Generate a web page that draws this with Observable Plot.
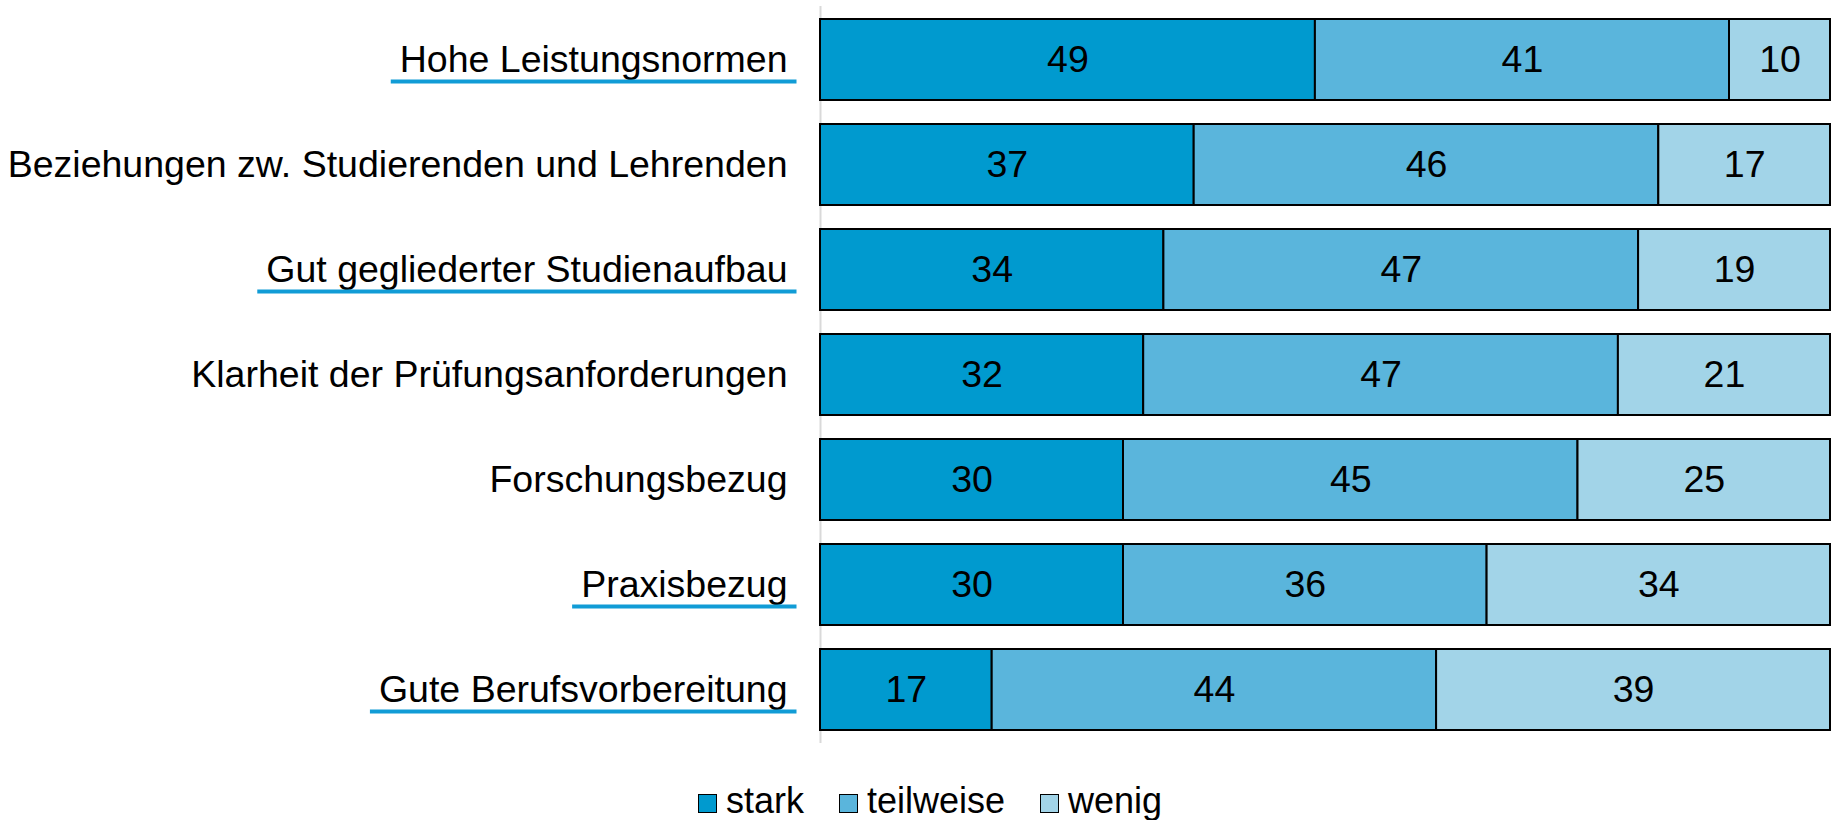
<!DOCTYPE html>
<html><head><meta charset="utf-8">
<script src="https://cdn.jsdelivr.net/npm/d3@7"></script>
<script src="https://cdn.jsdelivr.net/npm/@observablehq/plot@0.6"></script>
<style>
body{margin:0;background:#fff;font-family:"Liberation Sans",Arial,sans-serif;}
#chart svg{display:block;}
#legend{position:absolute;left:698px;top:781px;font-size:36px;line-height:40px;color:#000;white-space:nowrap;}
#legend .item{margin-right:35px;}
#legend .sw{display:inline-block;width:17px;height:17px;border:1.5px solid #000;margin-right:9px;vertical-align:baseline;}
</style></head><body><div id="chart"></div><div id="legend"></div>
<script>
const categories = [
  "Hohe Leistungsnormen",
  "Beziehungen zw. Studierenden und Lehrenden",
  "Gut gegliederter Studienaufbau",
  "Klarheit der Prüfungsanforderungen",
  "Forschungsbezug",
  "Praxisbezug",
  "Gute Berufsvorbereitung"
];
const stark     = [49, 37, 34, 32, 30, 30, 17];
const teilweise = [41, 46, 47, 47, 45, 36, 44];
const wenig     = [10, 17, 19, 21, 25, 34, 39];
const seriesNames = ["stark", "teilweise", "wenig"];
const underlined = ["Hohe Leistungsnormen", "Gut gegliederter Studienaufbau", "Praxisbezug", "Gute Berufsvorbereitung"];

const colors = ["#009ACF", "#5AB5DC", "#A2D4E8"];
const underlineColor = "#119CD6";
const font = '"Liberation Sans", Arial, sans-serif';

const seriesValues = [stark, teilweise, wenig];
const data = categories.flatMap((c, i) =>
  seriesNames.map((s, j) => ({cat: c, series: s, value: seriesValues[j][i]})));

const plot = Plot.plot({
  width: 1835, height: 750,
  marginLeft: 820, marginRight: 5, marginTop: 6, marginBottom: 7,
  style: {fontFamily: font, fontSize: "37px", color: "#000", background: "#fff"},
  x: {domain: [0, 100], axis: null},
  y: {domain: categories, paddingInner: 0.23, paddingOuter: 0.114, axis: null},
  color: {domain: seriesNames, range: colors},
  marks: [
    Plot.ruleX([0], {stroke: "#d9d9d9", strokeWidth: 2}),
    Plot.barX(data, Plot.stackX({x: "value", y: "cat", fill: "series", z: "series", stroke: "#000", strokeWidth: 2})),
    Plot.text(data, Plot.stackX({x: "value", y: "cat", z: "series", text: d => String(d.value), fill: "#000", fontSize: 37.5})),
    Plot.axisY({tickSize: 0, tickPadding: 33, fontSize: 37.5, fill: "#000", label: null})
  ]
});
document.getElementById("chart").append(plot);

// underline selected category labels
d3.select(plot).selectAll('g[aria-label="y-axis tick label"] text').each(function() {
  const label = this.textContent;
  if (!underlined.includes(label)) return;
  const bb = this.getBBox();
  const r = document.createElementNS("http://www.w3.org/2000/svg", "rect");
  r.setAttribute("x", bb.x - 9);
  r.setAttribute("width", bb.width + 18);
  r.setAttribute("y", bb.y + bb.height - 0.5);
  r.setAttribute("height", 4);
  r.setAttribute("fill", underlineColor);
  const t = this.getAttribute("transform");
  if (t) r.setAttribute("transform", t);
  this.parentNode.appendChild(r);
});

// legend
const legend = d3.select("#legend");
seriesNames.forEach((s, i) => {
  const item = legend.append("span").attr("class", "item");
  item.append("span").attr("class", "sw").style("background", colors[i]);
  item.append("span").text(s);
});
</script>
</body></html>
